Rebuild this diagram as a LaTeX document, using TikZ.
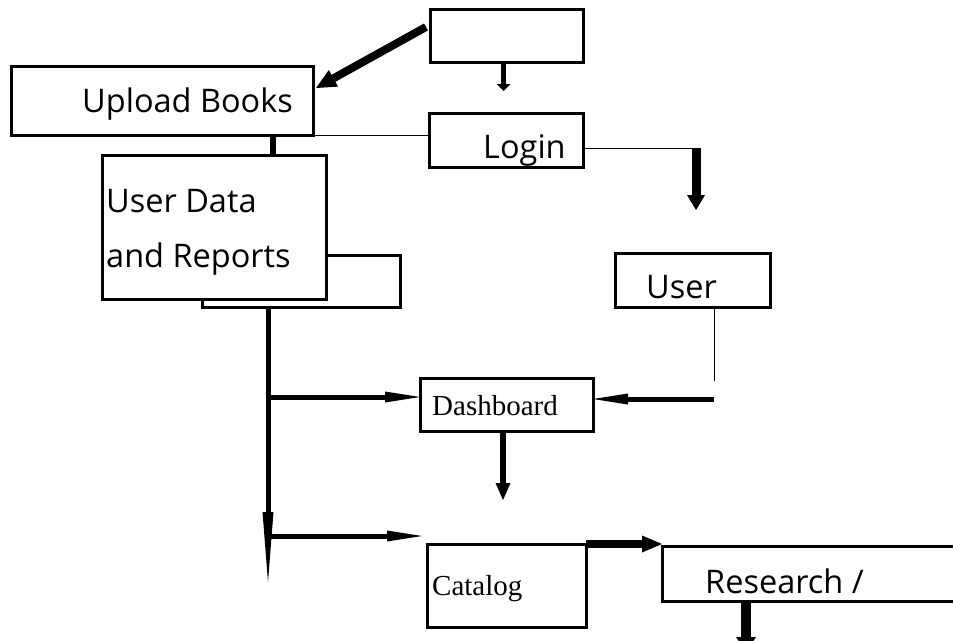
\documentclass[tikz,border=0pt]{standalone}
\usepackage{fontspec}
\newfontfamily\hand{Open Sans}
\newfontfamily\tnr{Liberation Serif}
\usetikzlibrary{arrows.meta,calc}
\tikzset{
  box/.style={draw, line width=3pt, fill=white, anchor=north west, inner sep=0pt, outer sep=0pt},
  htxt/.style={anchor=base west, inner sep=0pt, font=\hand\fontsize{32.5}{36}\selectfont},
  stxt/.style={anchor=base west, inner sep=0pt, font=\tnr\fontsize{29}{33}\selectfont},
  thin/.style={line width=1pt},
  narrow/.style={line width=5pt, -{Triangle[length=35pt,width=11pt,line width=0pt]}},
}
\begin{document}
\begin{tikzpicture}[x=1pt,y=-1pt]
\fill[white] (0,0) rectangle (953,640);
\useasboundingbox (0,0) rectangle (953,640);
% boxes
\node[box, minimum width=153pt, minimum height=53pt] (top) at (430,9) {};
\node[box, minimum width=302pt, minimum height=69pt] (up) at (11,66) {};
\node[box, minimum width=154pt, minimum height=54pt] (login) at (429,113) {};
\node[box, minimum width=198pt, minimum height=52pt] (back) at (202,255) {};
\node[box, minimum width=224pt, minimum height=144pt] (ud) at (102,155) {};
\node[box, minimum width=155pt, minimum height=54pt] (user) at (615,253) {};
\node[box, minimum width=173pt, minimum height=53pt] (dash) at (420,378) {};
\node[box, minimum width=159pt, minimum height=83pt] (cat) at (427,544) {};
\node[box, minimum width=330pt, minimum height=55pt] (res) at (662,546) {};
% texts
\node[htxt] (tup) at (82,112) {Upload Books};
\node[htxt] (tlogin) at (483,158) {Login};
\node[htxt] (tud1) at (106,212) {User Data};
\node[htxt] (tud2) at (106,267) {and Reports};
\node[htxt] (tuser) at (646,298) {User};
\node[htxt] (tres) at (705,593) {Research /};
\node[stxt] (tdash) at (432,415) {Dashboard};
\node[stxt] (tcat) at (432,595) {Catalog};
% coordinates
\coordinate (a1) at (426,27);
\coordinate (a2) at (316,88);
\coordinate (l1) at (696,148);
\coordinate (l2) at (696,210);
\coordinate (c1) at (273,135);
\coordinate (m0) at (268,307);
\coordinate (m1) at (268,582);
\coordinate (b1) at (268,397);
\coordinate (b2) at (268,536);
\coordinate (b2e) at (422,536);
\coordinate (u1) at (714,307);
\coordinate (u2) at (714,381);
\coordinate (u3) at (714,399);
\coordinate (d1) at (503,431);
\coordinate (d2) at (503,500);
\coordinate (r1) at (746,601);
\coordinate (r2) at (746,652);
% connectors
\draw[line width=8pt, -{Triangle[length=20pt,width=19pt,line width=0pt]}] (a1) -- (a2);
\draw[line width=5pt, -{Triangle[length=7pt,width=14pt,line width=0pt]}] (top.south) ++(-3,0) coordinate (t1) (t1) -- ++(0,29);
\draw[thin] (up.south east) -- (up.south east -| login.west);
\draw[thin] (l1 -| login.east) -- (l1);
\draw[line width=9pt, -{Triangle[length=15pt,width=18pt,line width=0pt]}] (l1) -- (l2);
\draw[line width=6pt] (c1) -- (c1 |- ud.north);
\draw[line width=5pt, -{Triangle[length=70pt,width=11pt,line width=0pt]}] (m0) -- (m1);
\draw[narrow] (b1) -- (b1 -| dash.west);
\draw[narrow] (b2) -- (b2e);
\draw[thin] (u1) -- (u2);
\draw[narrow] (u3) -- (u3 -| dash.east);
\draw[line width=6pt, -{Triangle[length=17pt,width=15pt,line width=0pt]}] (d1) -- (d2);
\draw[line width=8pt, -{Triangle[length=20pt,width=17pt,line width=0pt]}] (cat.north east) -- (cat.north east -| res.west);
\draw[line width=10pt, -{Triangle[length=15pt,width=20pt,line width=0pt]}] (r1) -- (r2);
\end{tikzpicture}
\end{document}
